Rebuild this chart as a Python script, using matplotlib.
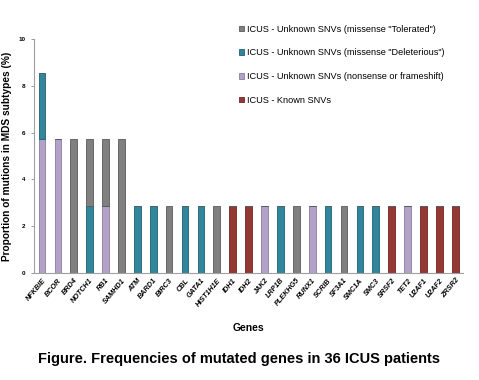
import matplotlib.pyplot as plt
import numpy as np

plt.rcParams['font.family'] = ['Liberation Sans', 'DejaVu Sans']

genes = ["NFKBIE", "BCOR", "BRD4", "NOTCH1", "RB1", "SAMHD1", "ATM", "BARD1", "BIRC3",
         "CBL", "GATA1", "HIST1H1E", "IDH1", "IDH2", "JAK2", "LRP1B", "PLEKHG5", "RUNX1",
         "SCRIB", "SF3A1", "SMC1A", "SMC3", "SRSF2", "TET2", "U2AF1", "U2AF2", "ZRSR2"]

known = [0, 0, 0, 0, 0, 0, 0, 0, 0, 0, 0, 0, 2.86, 2.86, 0, 0, 0, 0,
         0, 0, 0, 0, 2.86, 0, 2.86, 2.86, 2.86]
nonsense = [5.71, 5.71, 0, 0, 2.86, 0, 0, 0, 0, 0, 0, 0, 0, 0, 2.86, 0, 0, 2.86,
            0, 0, 0, 0, 0, 2.86, 0, 0, 0]
deleterious = [2.86, 0, 0, 2.86, 0, 0, 2.86, 2.86, 0, 2.86, 2.86, 0, 0, 0, 0, 2.86, 0, 0,
               2.86, 0, 2.86, 2.86, 0, 0, 0, 0, 0]
tolerated = [0, 0, 5.71, 2.86, 2.86, 5.71, 0, 0, 2.86, 0, 0, 2.86, 0, 0, 0, 0, 2.86, 0,
             0, 2.86, 0, 0, 0, 0, 0, 0, 0]

series = [
    ("ICUS - Known SNVs", known, "#953735", "#6e2624"),
    ("ICUS - Unknown SNVs (nonsense or frameshift)", nonsense, "#b3a2c7", "#8a7aa0"),
    ("ICUS - Unknown SNVs (missense \"Deleterious\")", deleterious, "#31859c", "#215f70"),
    ("ICUS - Unknown SNVs (missense \"Tolerated\")", tolerated, "#808080", "#5a5a5a"),
]

fig = plt.figure(figsize=(4.79, 3.80), dpi=100)
ax = fig.add_axes([0.071, 0.282, 0.896, 0.615])

x = np.arange(len(genes))
bottom = np.zeros(len(genes))
handles = []
for label, vals, color, edge in series:
    vals = np.array(vals)
    b = ax.bar(x, vals, width=0.42, bottom=bottom, color=color, edgecolor=edge,
               linewidth=0.6, label=label)
    handles.append(b)
    bottom += vals

ax.set_xlim(-0.5, len(genes) - 0.5)
ax.set_ylim(0, 10)
ax.set_yticks([0, 2, 4, 6, 8, 10])
ax.tick_params(axis='y', labelsize=4.5, length=2, width=0.6, color='#888888', pad=4)
for t in ax.get_yticklabels():
    t.set_fontweight('bold')
ax.set_xticks(x)
ax.set_xticklabels(genes, rotation=50, ha='right', rotation_mode='anchor',
                   fontsize=5.2, fontweight='bold', fontstyle='italic')
ax.tick_params(axis='x', length=0, pad=3)

for s in ['top', 'right']:
    ax.spines[s].set_visible(False)
for s in ['left', 'bottom']:
    ax.spines[s].set_color('#a0a0a0')
    ax.spines[s].set_linewidth(0.8)

ax.set_ylabel("Proportion of mutions in MDS subtypes (%)", fontsize=7.3,
              fontweight='bold', labelpad=5)
ax.set_xlabel("Genes", fontsize=7.5, fontweight='bold', labelpad=11)

ax.legend(handles[::-1], [s[0] for s in series][::-1], loc='upper left',
          bbox_to_anchor=(0.458, 1.097), frameon=False, fontsize=6.6,
          handlelength=0.6, handleheight=0.6, handletextpad=0.3, labelspacing=1.6)

fig.text(0.5, 0.045, "Figure. Frequencies of mutated genes in 36 ICUS patients",
         ha='center', fontsize=10.5, fontweight='bold')

fig.savefig("out.png", dpi=100)
